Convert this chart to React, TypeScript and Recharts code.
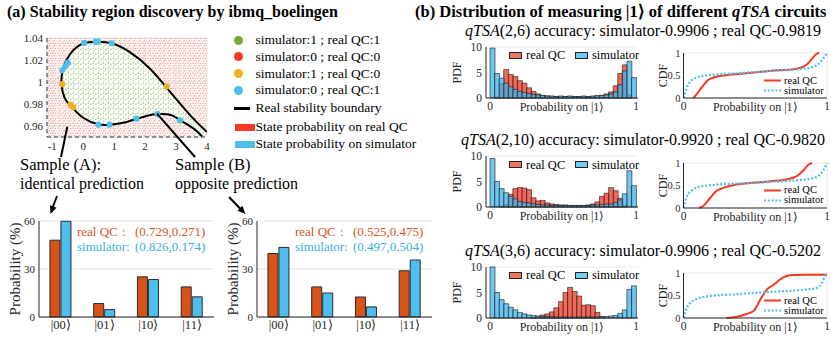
import React from 'react';
import { ComposedChart, BarChart, Bar, Line, Area, Scatter, XAxis, YAxis, ZAxis, CartesianGrid } from 'recharts';

const FONT = '"Liberation Serif", "Times New Roman", Times, serif';
const INK = '#262626';
const ORANGE = '#D95319';
const SKY = '#4DBEEE';
const RED = '#F23B22';

// (a) real stability boundary, traced from the right edge over the top and back along the bottom
const boundary = [
  { x: 4.0, y: 0.9545 }, { x: 3.46, y: 0.9697 }, { x: 2.81, y: 0.991 }, { x: 2.16, y: 1.012 },
  { x: 1.52, y: 1.027 }, { x: 0.92, y: 1.0352 }, { x: 0.43, y: 1.0366 }, { x: 0.0, y: 1.035 },
  { x: -0.32, y: 1.029 }, { x: -0.54, y: 1.02 }, { x: -0.66, y: 1.011 }, { x: -0.7, y: 0.9985 },
  { x: -0.6, y: 0.9855 }, { x: -0.38, y: 0.9775 }, { x: 0.0, y: 0.9675 }, { x: 0.49, y: 0.9615 },
  { x: 0.87, y: 0.9612 }, { x: 1.3, y: 0.963 }, { x: 1.73, y: 0.9665 }, { x: 2.1, y: 0.9695 },
  { x: 2.4, y: 0.9708 }, { x: 2.81, y: 0.9702 }, { x: 3.14, y: 0.9652 }, { x: 3.57, y: 0.9576 },
  { x: 3.84, y: 0.9505 },
];
const stableRegion = [{ x: 4, y: 0.95 }, ...boundary, { x: 4, y: 0.95 }];

// boundary samples where simulator and real QC disagree
const sim0real1 = [
  { x: 0.03, y: 1.0355 }, { x: 0.4, y: 1.0367 }, { x: 0.48, y: 1.0367 }, { x: 0.92, y: 1.0352 },
  { x: -0.5, y: 1.0176 }, { x: -0.58, y: 1.0145 }, { x: -0.68, y: 1.0106 }, { x: 0.49, y: 0.9612 },
  { x: 0.85, y: 0.9612 }, { x: 1.72, y: 0.9667 }, { x: 2.4, y: 0.9708 }, { x: 3.13, y: 0.9652 },
];
const sim1real0 = [
  { x: -0.68, y: 0.998 }, { x: 2.7, y: 0.996 }, { x: -0.41, y: 0.9794 }, { x: -0.32, y: 0.977 },
];

const legendA = [
  { label: 'simulator:1 ; real QC:1', color: '#77AC30' },
  { label: 'simulator:0 ; real QC:0', color: '#F03A1E' },
  { label: 'simulator:1 ; real QC:0', color: '#EDB120' },
  { label: 'simulator:0 ; real QC:1', color: SKY },
];

// state probabilities (%)
const states = ['|00⟩', '|01⟩', '|10⟩', '|11⟩'];
const sampleAReal = [48, 8.4, 25.1, 18.8];
const sampleASim = [59.8, 4.6, 23.4, 12.6];
const sampleBReal = [39.7, 18.8, 12.5, 28.9];
const sampleBSim = [43.5, 15, 6.3, 35.6];

// (b) histograms of P(|1>), 32 bins on [0,1]
const pdf26Real = [0, 0.2, 2.8, 5.6, 4.6, 4.2, 3.4, 2.9, 2.0, 1.3, 0.8, 0.5, 0.4, 0.3, 0.3, 0.3, 0.3, 0.3, 0.3, 0.3, 0.3, 0.3, 0.3, 0.4, 0.5, 0.8, 1.2, 2.4, 4.8, 6.5, 0.6, 0];
const pdf26Sim = [9.8, 4.8, 3.9, 2.9, 2.2, 1.7, 1.3, 1.1, 0.9, 0.7, 0.6, 0.5, 0.4, 0.4, 0.3, 0.4, 0.3, 0.4, 0.3, 0.3, 0.4, 0.3, 0.4, 0.5, 0.5, 0.6, 0.8, 1.2, 2.6, 5.3, 7.2, 4.0];
const pdf210Real = [0, 0, 0.2, 0.5, 2.5, 3.6, 3.8, 3.7, 3.4, 1.8, 1.2, 1.3, 0.8, 0.6, 0.5, 0.4, 0.4, 0.3, 0.3, 0.3, 0.3, 0.4, 0.6, 1.0, 2.1, 2.7, 3.8, 3.2, 1.7, 0.3, 0, 0];
const pdf210Sim = [9.5, 5.0, 3.6, 2.8, 2.1, 1.6, 1.1, 0.9, 0.8, 0.6, 0.5, 0.4, 0.4, 0.3, 0.3, 0.3, 0.3, 0.3, 0.3, 0.3, 0.3, 0.3, 0.4, 0.4, 0.5, 0.6, 0.6, 0.9, 1.4, 2.6, 7.1, 4.2];
const pdf36Real = [0, 0, 0, 0, 0, 0, 0, 0, 0, 0.1, 0.3, 0.6, 0.8, 1.2, 2.0, 3.2, 5.0, 6.0, 5.2, 4.3, 2.5, 2.6, 2.4, 1.1, 0.3, 0, 0, 0, 0, 0, 0, 0];
const pdf36Sim = [10, 5.0, 3.6, 2.8, 2.1, 1.6, 1.1, 0.8, 0.6, 0.5, 0.4, 0.3, 0.3, 0.3, 0.2, 0.2, 0.2, 0.2, 0.2, 0.2, 0.2, 0.2, 0.2, 0.2, 0.3, 0.3, 0.4, 0.5, 0.9, 1.6, 5.6, 6.3];

// cumulative distributions
const cdf26Real = [
  { p: 0.07, c: 0 }, { p: 0.1, c: 0.12 }, { p: 0.136, c: 0.27 }, { p: 0.17, c: 0.4 }, { p: 0.205, c: 0.45 },
  { p: 0.276, c: 0.5 }, { p: 0.4, c: 0.54 }, { p: 0.6, c: 0.6 }, { p: 0.79, c: 0.65 }, { p: 0.86, c: 0.745 },
  { p: 0.895, c: 0.87 }, { p: 0.93, c: 0.985 }, { p: 0.946, c: 1 },
];
const cdf26Sim = [
  { p: 0, c: 0 }, { p: 0.019, c: 0.2 }, { p: 0.042, c: 0.34 }, { p: 0.089, c: 0.45 }, { p: 0.16, c: 0.5 },
  { p: 0.37, c: 0.55 }, { p: 0.6, c: 0.6 }, { p: 0.84, c: 0.65 }, { p: 0.9, c: 0.69 }, { p: 0.95, c: 0.78 },
  { p: 0.977, c: 0.89 }, { p: 1, c: 1 },
];
const cdf210Real = [
  { p: 0.107, c: 0 }, { p: 0.136, c: 0.04 }, { p: 0.18, c: 0.2 }, { p: 0.23, c: 0.38 }, { p: 0.28, c: 0.45 },
  { p: 0.37, c: 0.52 }, { p: 0.6, c: 0.59 }, { p: 0.74, c: 0.65 }, { p: 0.79, c: 0.71 }, { p: 0.84, c: 0.85 },
  { p: 0.87, c: 0.96 }, { p: 0.895, c: 1 },
];
const cdf210Sim = [
  { p: 0, c: 0 }, { p: 0.02, c: 0.23 }, { p: 0.054, c: 0.38 }, { p: 0.11, c: 0.47 }, { p: 0.2, c: 0.51 },
  { p: 0.49, c: 0.56 }, { p: 0.72, c: 0.6 }, { p: 0.88, c: 0.65 }, { p: 0.94, c: 0.71 }, { p: 0.977, c: 0.85 },
  { p: 1, c: 1 },
];
const cdf36Real = [
  { p: 0.3, c: 0 }, { p: 0.37, c: 0.03 }, { p: 0.44, c: 0.09 }, { p: 0.49, c: 0.16 }, { p: 0.53, c: 0.38 },
  { p: 0.58, c: 0.63 }, { p: 0.63, c: 0.74 }, { p: 0.67, c: 0.85 }, { p: 0.74, c: 0.95 }, { p: 0.84, c: 0.962 },
  { p: 1, c: 0.962 },
];
const cdf36Sim = [
  { p: 0, c: 0 }, { p: 0.014, c: 0.16 }, { p: 0.04, c: 0.31 }, { p: 0.09, c: 0.42 }, { p: 0.16, c: 0.48 },
  { p: 0.37, c: 0.53 }, { p: 0.6, c: 0.58 }, { p: 0.84, c: 0.63 }, { p: 0.93, c: 0.67 }, { p: 0.965, c: 0.78 },
  { p: 0.986, c: 0.93 }, { p: 1, c: 1 },
];

const circuits = ['(2,6)', '(2,10)', '(3,6)'];
const simAccuracy = ['0.9906', '0.9920', '0.9906'];
const realAccuracy = ['0.9819', '0.9820', '0.5202'];
const pdfReal = [pdf26Real, pdf210Real, pdf36Real];
const pdfSim = [pdf26Sim, pdf210Sim, pdf36Sim];
const cdfReal = [cdf26Real, cdf210Real, cdf36Real];
const cdfSim = [cdf26Sim, cdf210Sim, cdf36Sim];

const rowOffset = [0, 109.5, 220];

type Anchor = 'start' | 'middle' | 'end';
const Txt: React.FC<{ x: number; y: number; size?: number; color?: string; anchor?: Anchor; bold?: boolean; children: React.ReactNode }> = ({ x, y, size = 13, color = '#000', anchor = 'start', bold, children }) => {
  const tx = anchor === 'start' ? '0' : anchor === 'middle' ? '-50%' : '-100%';
  return (
    <div style={{ position: 'absolute', left: x, top: y, fontSize: size, color, fontWeight: bold ? 700 : 400, lineHeight: 1, whiteSpace: 'nowrap', transform: `translate(${tx},-50%)` }}>
      {children}
    </div>
  );
};

const tickStyle = (size: number) => ({ fontSize: size, fill: INK });

const StateBars: React.FC<{ left: number; real: number[]; sim: number[]; realText: string; simText: string }> = ({ left, real, sim, realText, simText }) => {
  const data = states.map((s, i) => ({ state: s, real: real[i], sim: sim[i] }));
  return (
    <>
      <div style={{ position: 'absolute', left, top: 213 }}>
        <BarChart width={216} height={122} data={data} margin={{ top: 8, right: 2, bottom: 0, left: 0 }} barCategoryGap="25%" barGap={1}>
          <CartesianGrid vertical={false} stroke="#e2e2e2" />
          <XAxis dataKey="state" interval={0} height={18} tickLine={false} tickSize={0} tickMargin={3} tick={tickStyle(12.5)} axisLine={{ stroke: INK }} />
          <YAxis domain={[0, 60]} ticks={[0, 30, 60]} width={39} tickLine={false} tickSize={0} tickMargin={4} tick={tickStyle(11)} axisLine={{ stroke: INK }}
            label={{ value: 'Probability (%)', angle: -90, position: 'insideLeft', offset: 15, style: { textAnchor: 'middle' }, fontSize: 15, fill: INK }} />
          <Bar dataKey="real" fill={ORANGE} stroke="#2a2a2a" strokeWidth={1} isAnimationActive={false} />
          <Bar dataKey="sim" fill={SKY} stroke="#2a2a2a" strokeWidth={1} isAnimationActive={false} />
        </BarChart>
      </div>
      <Txt x={left + 77} y={231} color={ORANGE}>real QC</Txt>
      <Txt x={left + 122} y={231} color={ORANGE}>:</Txt>
      <Txt x={left + 135} y={231} color={ORANGE}>{realText}</Txt>
      <Txt x={left + 77} y={246} color="#3AAEE4">simulator:</Txt>
      <Txt x={left + 135} y={246} color="#3AAEE4">{simText}</Txt>
    </>
  );
};

// bins fill [0,1] exactly; the end ticks sit on the outer bin edges
const BIN_HALF = 146 / 32 / 2;
const lastBin = pdf26Real.length - 1;
const BinEdgeTick = (props: any) => {
  const { x, y, payload } = props;
  const first = payload.value === 0;
  return (
    <text x={x + (first ? -BIN_HALF : BIN_HALF)} y={y} dy="0.71em" textAnchor="middle" fontSize={11.5} fill={INK}>
      {first ? '0' : '1'}
    </text>
  );
};

const PdfPanel: React.FC<{ real: number[]; sim: number[]; top: number }> = ({ real, sim, top }) => {
  const data = real.map((r, i) => ({ bin: i, real: r, sim: sim[i] }));
  return (
    <>
      <div style={{ position: 'absolute', left: 450, top: top - 6 }}>
        <ComposedChart width={190} height={73} data={data} margin={{ top: 6, right: 2, bottom: 0, left: 0 }} barCategoryGap={0} barGap={0}>
          <CartesianGrid xAxisId="r" vertical={false} stroke="#e4e4e4" strokeWidth={0.8} />
          <XAxis xAxisId="r" dataKey="bin" padding={{ left: 4, right: 2 }} ticks={[0, lastBin]} interval={0} height={16}
            tickLine={false} tickSize={0} tickMargin={4} tick={BinEdgeTick} axisLine={{ stroke: INK }}
            label={{ value: 'Probability on |1⟩', position: 'insideBottom', offset: 3, fontSize: 12, fill: INK }} />
          <XAxis xAxisId="s" dataKey="bin" hide padding={{ left: 4, right: 2 }} />
          <YAxis domain={[0, 10]} ticks={[0, 5, 10]} width={36} tickLine={false} tickSize={0} tickMargin={4} tick={tickStyle(11.5)} axisLine={{ stroke: INK }}
            label={{ value: 'PDF', angle: -90, position: 'insideLeft', offset: 7, style: { textAnchor: 'middle' }, fontSize: 12, fill: INK }} />
          <Bar xAxisId="r" dataKey="real" fill="#EF4433" fillOpacity={0.8} stroke="#1a1a1a" strokeWidth={0.6} isAnimationActive={false} />
          <Bar xAxisId="s" dataKey="sim" fill="#3DB2E8" fillOpacity={0.75} stroke="#1a1a1a" strokeWidth={0.6} isAnimationActive={false} />
        </ComposedChart>
      </div>
      <div style={{ position: 'absolute', left: 509, top: top + 5, width: 13, height: 7, background: '#F27563', border: '0.6px solid #222', boxSizing: 'border-box' }} />
      <Txt x={526} y={top + 8.5} size={12.5}>real QC</Txt>
      <div style={{ position: 'absolute', left: 575, top: top + 5, width: 13, height: 7, background: '#72C8EE', border: '0.6px solid #222', boxSizing: 'border-box' }} />
      <Txt x={592} y={top + 8.5} size={12.5}>simulator</Txt>
    </>
  );
};

const CdfPanel: React.FC<{ real: { p: number; c: number }[]; sim: { p: number; c: number }[]; top: number }> = ({ real, sim, top }) => (
  <>
    <div style={{ position: 'absolute', left: 653, top: top - 6 }}>
      <ComposedChart width={177} height={67} margin={{ top: 6, right: 3, bottom: 0, left: 0 }}>
        <CartesianGrid stroke="#e4e4e4" strokeWidth={0.8} />
        <XAxis type="number" dataKey="p" domain={[0, 1]} ticks={[0, 1]} height={16} tickLine={false} tickSize={0} tickMargin={4}
          tick={tickStyle(11.5)} axisLine={{ stroke: INK }}
          label={{ value: 'Probability on |1⟩', position: 'insideBottom', offset: 3, fontSize: 12, fill: INK }} />
        <YAxis type="number" domain={[0, 1]} ticks={[0, 0.5, 1]} width={30.5} tickLine={false} tickSize={0} tickMargin={3} tick={tickStyle(10.5)} axisLine={{ stroke: INK }}
          label={{ value: 'CDF', angle: -90, position: 'insideLeft', offset: 9.5, style: { textAnchor: 'middle' }, fontSize: 12, fill: INK }} />
        <Line data={real} dataKey="c" type="monotone" stroke={RED} strokeWidth={2} dot={false} isAnimationActive={false} />
        <Line data={sim} dataKey="c" type="monotone" stroke={SKY} strokeWidth={2.2} strokeDasharray="2 1.8" dot={false} isAnimationActive={false} />
      </ComposedChart>
    </div>
    <svg style={{ position: 'absolute', left: 760, top: top + 19 }} width={25} height={22}>
      <line x1={4} y1={8.5} x2={21} y2={8.5} stroke={RED} strokeWidth={2} />
      <line x1={4} y1={18.5} x2={21} y2={18.5} stroke={SKY} strokeWidth={2.2} strokeDasharray="2 1.8" />
    </svg>
    <Txt x={784} y={top + 27.5} size={10.5}>real QC</Txt>
    <Txt x={784} y={top + 37.5} size={10.5}>simulator</Txt>
  </>
);

const arrowHead = (x1: number, y1: number, x2: number, y2: number) => {
  const dx = x2 - x1, dy = y2 - y1, len = Math.hypot(dx, dy);
  const ux = dx / len, uy = dy / len;
  const bx = x2 - 8 * ux, by = y2 - 8 * uy;
  return `${x2},${y2} ${bx - 3.5 * uy},${by + 3.5 * ux} ${bx + 3.5 * uy},${by - 3.5 * ux}`;
};

export default function App() {
  return (
    <div style={{ position: 'absolute', left: 0, top: 0, width: 831, height: 342, background: '#fff', fontFamily: FONT, color: '#000', overflow: 'hidden' }}>
      <Txt x={7} y={12} size={16} bold>(a) Stability region discovery by ibmq_boelingen</Txt>
      <Txt x={415} y={12} size={16.5} bold>(b) Distribution of measuring |1⟩ of different <i>qTSA</i> circuits</Txt>

      <div style={{ position: 'absolute', left: 17, top: 32 }}>
        <ComposedChart width={194} height={121} margin={{ top: 6, right: 4, bottom: 0, left: 0 }}>
          <defs>
            <pattern id="pinkDots" width="5" height="5" patternUnits="userSpaceOnUse">
              <rect width="5" height="5" fill="#fff" />
              <rect x="0.3" y="0.4" width="1.4" height="1.4" fill="#F3A197" />
              <rect x="2.8" y="0.9" width="1.4" height="1.4" fill="#F3A197" />
              <rect x="1.4" y="3.0" width="1.4" height="1.4" fill="#F3A197" />
              <rect x="3.6" y="3.4" width="1.2" height="1.2" fill="#F6B9B1" />
            </pattern>
            <pattern id="greenDots" width="5" height="5" patternUnits="userSpaceOnUse">
              <rect width="5" height="5" fill="#fff" />
              <rect x="0.6" y="0.5" width="1.4" height="1.4" fill="#ABCB88" />
              <rect x="3.1" y="1.6" width="1.4" height="1.4" fill="#ABCB88" />
              <rect x="1.2" y="3.4" width="1.3" height="1.3" fill="#BCD6A0" />
            </pattern>
          </defs>
          <CartesianGrid fill="url(#pinkDots)" fillOpacity={1} stroke="#d4d4d4" strokeWidth={0.6} />
          <XAxis type="number" dataKey="x" domain={[-1.17, 4]} allowDataOverflow ticks={[-1, 0, 1, 2, 3, 4]} height={16}
            tickLine={false} tickSize={0} tickMargin={5} tick={tickStyle(11)} axisLine={{ stroke: '#333', strokeDasharray: '4 3' }} />
          <YAxis type="number" dataKey="y" domain={[0.95, 1.04]} allowDataOverflow ticks={[0.96, 0.98, 1, 1.02, 1.04]} width={30}
            tickFormatter={(v: number) => String(Math.round(v * 100) / 100)}
            tickLine={false} tickSize={0} tickMargin={4} tick={tickStyle(11)} axisLine={{ stroke: '#333', strokeDasharray: '4 3' }} />
          <ZAxis type="number" range={[30, 30]} />
          <Area data={stableRegion} dataKey="y" type="linear" stroke="none" fill="url(#greenDots)" fillOpacity={1} baseValue={0.95} isAnimationActive={false} />
          <Line data={boundary} dataKey="y" type="natural" stroke="#000" strokeWidth={2} dot={false} isAnimationActive={false} />
          <Scatter data={sim0real1} fill={SKY} isAnimationActive={false} />
          <Scatter data={sim1real0} fill="#EDB120" isAnimationActive={false} />
        </ComposedChart>
      </div>

      {legendA.map((item, i) => (
        <React.Fragment key={item.label}>
          <div style={{ position: 'absolute', left: 233.5, top: 35.5 + i * 16.8, width: 9, height: 9, borderRadius: '50%', background: item.color }} />
          <Txt x={255.5} y={40 + i * 16.8} size={13.5}>{item.label}</Txt>
        </React.Fragment>
      ))}
      <div style={{ position: 'absolute', left: 234, top: 107, width: 16, height: 2.5, background: '#000' }} />
      <Txt x={255.5} y={108} size={13.5}>Real stability boundary</Txt>
      <div style={{ position: 'absolute', left: 235, top: 123.5, width: 20, height: 7, background: RED }} />
      <Txt x={255.5} y={127} size={13.5}>State probability on real QC</Txt>
      <div style={{ position: 'absolute', left: 235, top: 140.5, width: 20, height: 7, background: SKY }} />
      <Txt x={255.5} y={144} size={13.5}>State probability on simulator</Txt>

      <Txt x={20} y={165} size={16.5}>Sample (A):</Txt>
      <Txt x={20} y={184} size={16}>identical prediction</Txt>
      <Txt x={175} y={165} size={16.5}>Sample (B)</Txt>
      <Txt x={175} y={184} size={16}>opposite prediction</Txt>

      <StateBars left={0} real={sampleAReal} sim={sampleASim} realText="(0.729,0.271)" simText="(0.826,0.174)" />
      <StateBars left={218} real={sampleBReal} sim={sampleBSim} realText="(0.525,0.475)" simText="(0.497,0.504)" />

      {rowOffset.map((off, i) => (
        <React.Fragment key={circuits[i]}>
          <Txt x={643} y={30.5 + off} size={16} anchor="middle">
            <i>qTSA</i>{circuits[i]} accuracy: simulator-{simAccuracy[i]} ; real QC-{realAccuracy[i]}
          </Txt>
          <PdfPanel real={pdfReal[i]} sim={pdfSim[i]} top={46.5 + off} />
          <CdfPanel real={cdfReal[i]} sim={cdfSim[i]} top={53 + off} />
        </React.Fragment>
      ))}

      <svg style={{ position: 'absolute', left: 0, top: 0, pointerEvents: 'none' }} width={831} height={342}>
        <line x1={67.3} y1={126.7} x2={61} y2={157} stroke="#000" strokeWidth={2} />
        <line x1={157} y1={113.7} x2={195} y2={157} stroke="#000" strokeWidth={2} />
        <line x1={57} y1={196} x2={52.5} y2={208} stroke="#000" strokeWidth={2} />
        <polygon points={arrowHead(57, 196, 50.5, 214)} fill="#000" />
        <line x1={229} y1={197} x2={241} y2={209.5} stroke="#000" strokeWidth={2} />
        <polygon points={arrowHead(229, 197, 245.5, 214)} fill="#000" />
      </svg>
    </div>
  );
}
